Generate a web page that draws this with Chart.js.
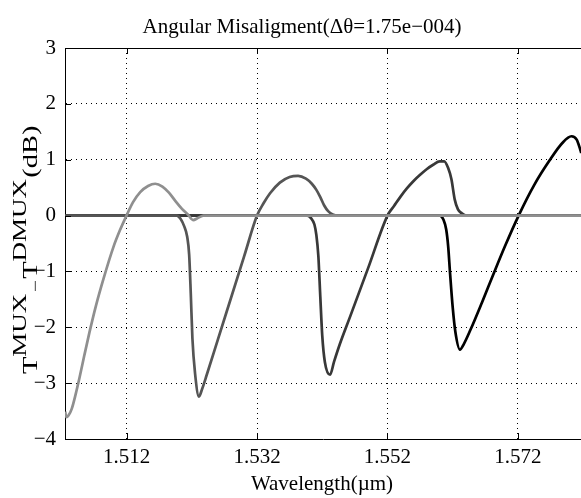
<!DOCTYPE html>
<html>
<head>
<meta charset="utf-8">
<script src="https://cdn.jsdelivr.net/npm/chart.js@4"></script>
<style>
  html, body { margin: 0; padding: 0; background: #fff; overflow: hidden; }
  #wrap { width: 581px; height: 498px; position: relative; }
</style>
</head>
<body>
<div id="wrap"><canvas id="chart"></canvas></div>
<script>
// wavelength (um) / difference (dB), one pair of arrays per channel
const wl1 = [1.5026, 1.50277, 1.5031, 1.5036, 1.5042, 1.5048, 1.5055, 1.5063, 1.5073, 1.5085, 1.5100, 1.5110, 1.5120, 1.5130, 1.5141, 1.5153, 1.5164, 1.5175, 1.5185, 1.5195, 1.5205, 1.5214, 1.5222, 1.5230, 1.5238, 1.5817];
const db1 = [-3.51, -3.61, -3.58, -3.46, -3.20, -2.90, -2.52, -2.10, -1.62, -1.12, -0.56, -0.26, 0.0, 0.24, 0.42, 0.53, 0.57, 0.52, 0.41, 0.26, 0.12, 0.02, -0.08, -0.04, 0.0, 0.0];

const wl2 = [1.5026, 1.5197, 1.5203, 1.5208, 1.5213, 1.5216, 1.52185, 1.5221, 1.5225, 1.5231, 1.5236, 1.5243, 1.5260, 1.5280, 1.5300, 1.5320, 1.5330, 1.5340, 1.5355, 1.5370, 1.5383, 1.5395, 1.5404, 1.5411, 1.5417, 1.5423, 1.5429, 1.5436, 1.5444, 1.5817];
const db2 = [0, 0, -0.06, -0.18, -0.38, -0.70, -1.40, -2.20, -2.82, -3.24, -3.10, -2.85, -2.22, -1.48, -0.74, 0.0, 0.22, 0.40, 0.59, 0.69, 0.71, 0.66, 0.57, 0.46, 0.33, 0.18, 0.08, 0.02, 0, 0];

const wl3 = [1.5026, 1.5397, 1.5403, 1.5408, 1.5411, 1.5414, 1.5417, 1.5420, 1.5424, 1.5432, 1.5438, 1.5447, 1.5463, 1.5490, 1.5520, 1.5530, 1.5540, 1.5550, 1.5560, 1.5570, 1.5580, 1.5590, 1.5600, 1.5607, 1.5613, 1.5618, 1.5623, 1.5628, 1.5634, 1.5641, 1.5817];
const db3 = [0, 0, -0.05, -0.16, -0.35, -0.72, -1.45, -2.15, -2.62, -2.85, -2.62, -2.30, -1.80, -0.95, 0.0, 0.17, 0.34, 0.49, 0.62, 0.73, 0.83, 0.91, 0.97, 0.97, 0.85, 0.65, 0.29, 0.11, 0.04, 0, 0];

const wl4 = [1.5026, 1.5600, 1.5606, 1.5610, 1.5613, 1.5616, 1.5620, 1.5624, 1.5631, 1.5637, 1.5647, 1.5665, 1.5682, 1.5700, 1.5721, 1.5745, 1.5768, 1.5788, 1.5802, 1.5810, 1.5815, 1.5817];
const db4 = [0, 0, -0.08, -0.25, -0.55, -1.05, -1.65, -2.08, -2.40, -2.30, -2.05, -1.55, -1.06, -0.55, 0.0, 0.55, 0.98, 1.30, 1.42, 1.36, 1.20, 1.12];

const xTicks = [1.512, 1.532, 1.552, 1.572];
const yTicks = [3, 2, 1, 0, -1, -2, -3, -4];
const lineColors = ['#8f8f8f', '#555555', '#383838', '#000000'];

const titleText = 'Angular Misaligment(\u0394\u03b8=1.75e\u2212004)';
const xLabelText = 'Wavelength(\u00b5m)';
const FONT = '"Liberation Serif", "Times New Roman", serif';

function pts(xs, ys) {
    return xs.map((x, i) => ({ x: x, y: ys[i] }));
}

const series = [[wl1, db1], [wl2, db2], [wl3, db3], [wl4, db4]];

// title, axis labels, top frame line and the inward tick marks
const decorPlugin = {
    id: 'decor',
    afterDraw(chart) {
        const { ctx, chartArea, scales } = chart;
        ctx.save();
        ctx.fillStyle = '#000';
        ctx.strokeStyle = '#000';
        ctx.lineWidth = 1;

        ctx.beginPath();
        ctx.moveTo(chartArea.left, chartArea.top + 0.5);
        ctx.lineTo(chartArea.right, chartArea.top + 0.5);
        ctx.stroke();

        ctx.beginPath();
        xTicks.forEach(v => {
            const px = Math.round(scales.x.getPixelForValue(v)) + 0.5;
            ctx.moveTo(px, chartArea.bottom); ctx.lineTo(px, chartArea.bottom - 6);
            ctx.moveTo(px, chartArea.top); ctx.lineTo(px, chartArea.top + 6);
        });
        yTicks.forEach(v => {
            const py = Math.round(scales.y.getPixelForValue(v)) + 0.5;
            ctx.moveTo(chartArea.left, py); ctx.lineTo(chartArea.left + 6, py);
        });
        ctx.stroke();

        ctx.font = '21px ' + FONT;
        ctx.textAlign = 'center';
        ctx.textBaseline = 'alphabetic';
        ctx.fillText(titleText, 302, 33);
        ctx.fillText(xLabelText, 322, 490);

        // rotated y label with super/subscripts
        const parts = [
            { t: 'T', size: 20, dy: 0, gap: 0 },
            { t: 'MUX', size: 19, dy: -11, gap: 0 },
            { t: '\u2212', size: 15, dy: 3, gap: 1 },
            { t: 'T', size: 20, dy: 0, gap: 1 },
            { t: 'DMUX', size: 19, dy: -11, gap: 0 },
            { t: '(dB)', size: 20, dy: 0, gap: 1 }
        ];
        ctx.translate(37, 374);
        ctx.rotate(-Math.PI / 2);
        ctx.scale(1.42, 1);
        ctx.textAlign = 'left';
        let x = 0;
        parts.forEach(p => {
            x += p.gap;
            ctx.font = p.size + 'px ' + FONT;
            ctx.fillText(p.t, x, p.dy);
            x += ctx.measureText(p.t).width;
        });
        ctx.restore();
    }
};

new Chart(document.getElementById('chart'), {
    type: 'line',
    data: {
        datasets: series.map((s, i) => ({
            data: pts(s[0], s[1]),
            borderColor: lineColors[i],
            borderWidth: 2.7,
            pointRadius: 0,
            fill: false,
            cubicInterpolationMode: 'monotone'
        }))
    },
    options: {
        responsive: true,
        maintainAspectRatio: false,
        animation: false,
        layout: { padding: { top: 48, right: 0, left: 0, bottom: 0 } },
        plugins: { legend: { display: false }, tooltip: { enabled: false }, title: { display: false } },
        scales: {
            x: {
                type: 'linear',
                min: 1.50257,
                max: 1.58166,
                afterBuildTicks: sc => { sc.ticks = xTicks.map(v => ({ value: v })); },
                afterFit: sc => { sc.height = 59; },
                ticks: {
                    color: '#000',
                    font: { family: FONT, size: 21 },
                    padding: 6,
                    maxRotation: 0,
                    callback: v => v.toFixed(3)
                },
                grid: { color: '#000', lineWidth: 1, drawTicks: false },
                border: { display: true, color: '#000', width: 1, dash: [1, 4] }
            },
            y: {
                min: -4,
                max: 3,
                afterBuildTicks: sc => { sc.ticks = yTicks.map(v => ({ value: v })); },
                afterFit: sc => { sc.width = 65; },
                ticks: {
                    color: '#000',
                    font: { family: FONT, size: 21 },
                    padding: 9,
                    callback: v => (v < 0 ? '\u2212' + Math.abs(v) : String(v))
                },
                grid: { color: '#000', lineWidth: 1, drawTicks: false },
                border: { display: true, color: '#000', width: 1, dash: [1, 4] }
            }
        }
    },
    plugins: [decorPlugin]
});
</script>
</body>
</html>
